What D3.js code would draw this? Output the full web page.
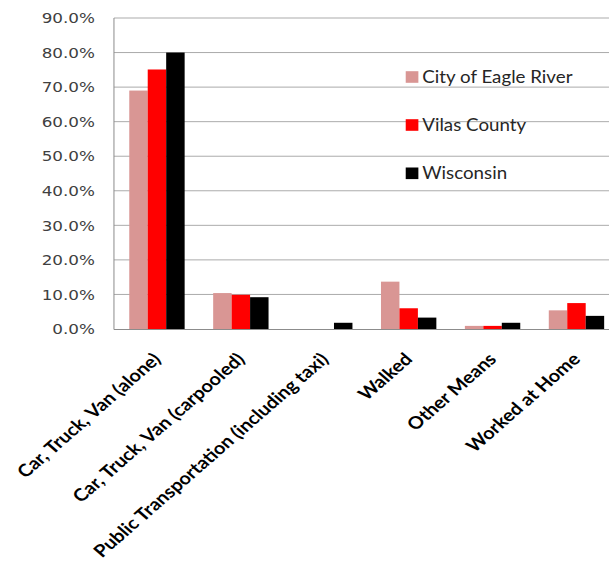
<!DOCTYPE html>
<html>
<head>
<meta charset="utf-8">
<script src="https://cdn.jsdelivr.net/npm/d3@7"></script>
<style>
  html, body { margin: 0; padding: 0; background: #fff; }
  svg { display: block; }
</style>
</head>
<body>
<svg id="chart" width="609" height="562"></svg>
<script>
const categories = ["Car, Truck, Van (alone)", "Car, Truck, Van (carpooled)", "Public Transportation (including taxi)", "Walked", "Other Means", "Worked at Home"];
const seriesNames = ["City of Eagle River", "Vilas County", "Wisconsin"];
const eagleRiver = [69.0, 10.4, 0, 13.7, 0.9, 5.4];
const vilasCounty = [75.1, 9.9, 0, 6.0, 0.9, 7.5];
const wisconsin = [80.0, 9.2, 1.8, 3.3, 1.8, 3.8];
const yTicks = [0, 10, 20, 30, 40, 50, 60, 70, 80, 90];

const seriesValues = [eagleRiver, vilasCounty, wisconsin];
const colors = ["#D99694", "#FF0000", "#000000"];

const SX = 1.15; // horizontal stretch of the original picture
const W = 609 / SX;
const svg = d3.select("#chart");
const g = svg.append("g").attr("transform", `scale(${SX},1)`);

const left = 99.1, yTop = 18, yBottom = 329;
const y = d3.scaleLinear().domain([0, 90]).range([yBottom, yTop]);
const x0 = d3.scaleBand().domain(categories).range([100, 100 + 6 * 72.96])
  .paddingInner(0.34).paddingOuter(0.17);
const x1 = d3.scaleBand().domain(seriesNames).range([0, x0.bandwidth()]);

// gridlines
g.append("g").selectAll("line").data(yTicks.filter(d => d > 0)).join("line")
  .attr("x1", left).attr("x2", W + 20)
  .attr("y1", d => y(d)).attr("y2", d => y(d))
  .attr("stroke", "#ababab").attr("stroke-width", 1)
  .attr("vector-effect", "non-scaling-stroke");

// bars
const data = categories.map((c, i) => ({ c, vals: seriesNames.map((s, j) => ({ s, v: seriesValues[j][i], j })) }));
g.append("g").selectAll("g").data(data).join("g")
  .attr("transform", d => `translate(${x0(d.c)},0)`)
  .selectAll("rect").data(d => d.vals).join("rect")
  .attr("x", d => x1(d.s)).attr("width", x1.bandwidth())
  .attr("y", d => y(d.v)).attr("height", d => y(0) - y(d.v))
  .attr("fill", d => colors[d.j]);

// axes lines
g.append("line").attr("x1", left).attr("x2", left).attr("y1", yTop).attr("y2", yBottom + 0.5)
  .attr("stroke", "#8c8c8c").attr("stroke-width", 1).attr("vector-effect", "non-scaling-stroke");
g.append("line").attr("x1", left).attr("x2", W + 20).attr("y1", yBottom + 0.5).attr("y2", yBottom + 0.5)
  .attr("stroke", "#8c8c8c").attr("stroke-width", 1).attr("vector-effect", "non-scaling-stroke");

// y tick labels
g.append("g").selectAll("text").data(yTicks).join("text")
  .attr("x", 82.6).attr("y", d => y(d)).attr("dy", "0.36em")
  .attr("text-anchor", "end")
  .attr("font-family", "DejaVu Sans, Verdana, sans-serif")
  .attr("font-size", 14.6).attr("fill", "#404040")
  .text(d => d3.format(".1f")(d) + "%");

// category labels
g.append("g").selectAll("text").data(categories).join("text")
  .attr("transform", d => `translate(${x0(d) + x0.bandwidth() / 2},356) rotate(-45)`)
  .attr("text-anchor", "end").attr("dy", "0.35em")
  .attr("font-family", "Lato, sans-serif").attr("font-weight", 700)
  .attr("font-size", 17.3).attr("fill", "#000")
  .text(d => d);

// legend
const legendY = [77, 125, 173.3];
const lg = g.append("g").selectAll("g").data(seriesNames).join("g")
  .attr("transform", (d, i) => `translate(352.8,${legendY[i]})`);
lg.append("rect").attr("x", 0).attr("y", -5.8).attr("width", 11).attr("height", 11.6)
  .attr("fill", (d, i) => colors[i]);
lg.append("text").attr("x", 14.4).attr("y", 0).attr("dy", "0.36em")
  .attr("font-family", "Lato, sans-serif").attr("font-size", 16.3).attr("fill", "#262626")
  .text(d => d);
</script>
</body>
</html>
